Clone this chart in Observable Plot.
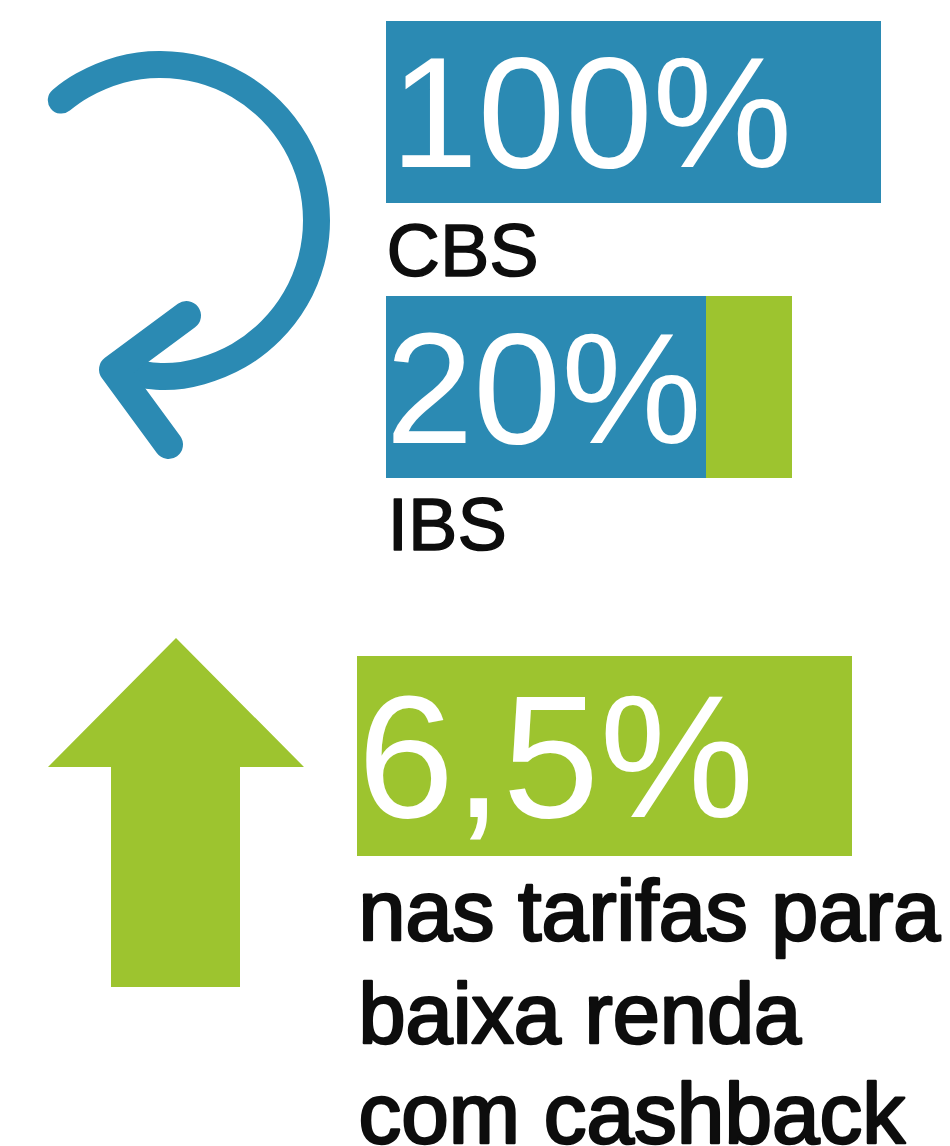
<!DOCTYPE html>
<html lang="pt">
<head>
<meta charset="utf-8">
<script src="https://cdn.jsdelivr.net/npm/d3@7"></script>
<script src="https://cdn.jsdelivr.net/npm/@observablehq/plot@0.6"></script>
<style>
  html, body { margin: 0; padding: 0; background: #fff; }
  svg { display: block; }
</style>
</head>
<body>
<script>
// Values
const percentLabels = ["100%", "20%", "6,5%"];
const captions = ["CBS", "IBS"];
const captionLines = ["nas tarifas para", "baixa renda", "com cashback"];
const cbsShare = [100];
const ibsBlueShare = [64.646];
const ibsGreenShare = [17.374];
const tarifaShare = [100];

// Icon outlines, in picture units
const loopArc = [[60.8,99.6],[82,84.9],[119.6,69.3],[160,64],[200.4,69.3],[238,84.9],[270.3,109.7],[295.1,142],[310.7,179.6],[316,220],[310.7,260.4],[295.1,298],[270.3,330.3],[238,355.1],[200.4,370.7],[160,376],[113,369]];
const loopHead = [[186,315],[113,369],[168,444]];
const upArrow = [[176,638],[304,767],[240,767],[240,987],[111,987],[111,767],[48,767],[176,638]];

const BLUE = "#2b8ab3", GREEN = "#9dc42f", INK = "#0d0d0d";
const FONT = "Liberation Sans";

// x runs in percent of a full bar; y runs down the picture
const X0 = 386, X1 = 881;
const sx = px => (px - X0) / (X1 - X0) * 100;
const px = d => sx(d[0]), py = d => d[1];

const bar = (value, start, top, bottom, fill, dx = 0) =>
  Plot.rect([value], {x1: start, x2: start + value, y1: top, y2: bottom, fill, dx, shapeRendering: "crispEdges"});

const label = (text, left, base, size, fill, extra = {}) =>
  Plot.text([text], {x: sx(left), y: base, text: d => d, textAnchor: "start", lineAnchor: "bottom",
    fontFamily: FONT, fontSize: size, fill, ...extra});

const heavy = {stroke: INK, strokeWidth: 2.6};
const medium = {stroke: INK, strokeWidth: 1.5};

const chart = Plot.plot({
  width: 950, height: 1146,
  margin: 0,
  style: {background: "#fff", overflow: "visible"},
  x: {domain: [0, 100], range: [X0, X1], axis: null},
  y: {domain: [0, 1146], range: [0, 1146], axis: null},
  marks: [
    Plot.line(loopArc, {x: px, y: py, curve: "natural", stroke: BLUE, strokeWidth: 27, strokeLinecap: "round", strokeLinejoin: "round"}),
    Plot.line(loopHead, {x: px, y: py, stroke: BLUE, strokeWidth: 29, strokeLinecap: "round", strokeLinejoin: "round"}),
    Plot.line(upArrow, {x: px, y: py, fill: GREEN, stroke: "none", dx: -0.5, dy: -0.5}),

    bar(cbsShare[0], 0, 21, 203, BLUE),
    bar(ibsBlueShare[0], 0, 296, 478, BLUE),
    bar(ibsGreenShare[0], ibsBlueShare[0], 296, 478, GREEN),
    bar(tarifaShare[0], 0, 656, 856, GREEN, -29),

    label(percentLabels[0], 390, 166, 157, "#fff"),
    label(percentLabels[1], 385, 442, 158, "#fff"),
    label(percentLabels[2], 357, 816, 174, "#fff"),

    label(captions[0], 386, 275, 74, INK, medium),
    label(captions[1], 387, 549, 74, INK, medium),

    label(captionLines[0], 358, 939, 84.4, INK, heavy),
    label(captionLines[1], 358, 1042, 84.7, INK, heavy),
    label(captionLines[2], 358, 1142, 85.5, INK, heavy)
  ]
});
document.body.appendChild(chart);
</script>
</body>
</html>
